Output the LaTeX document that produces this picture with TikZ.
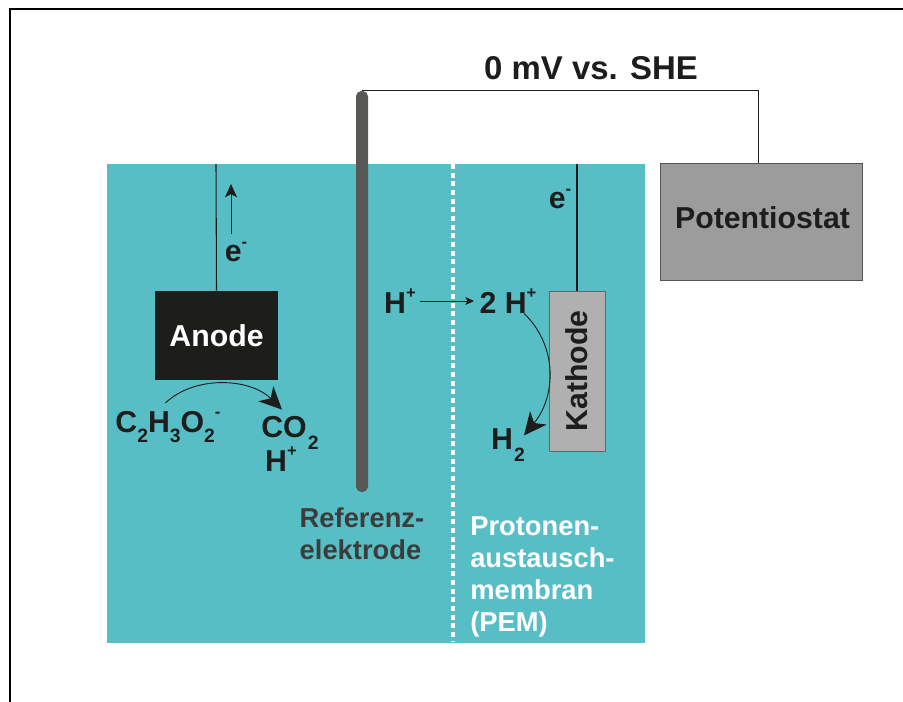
\documentclass[tikz,border=0pt]{standalone}
\usepackage{fontspec}
\setmainfont{Liberation Sans}
\usetikzlibrary{arrows.meta}
\definecolor{bad}{HTML}{58BEC6}
\definecolor{stab}{HTML}{575756}
\definecolor{dunkel}{HTML}{1D1D1B}
\definecolor{schrift}{HTML}{3C3C3B}
\newcommand{\tief}[1]{\raisebox{-0.33em}{\fontsize{14.5}{15}\selectfont #1}}
\newcommand{\tiefer}[1]{\raisebox{-0.4em}{\fontsize{14.5}{15}\selectfont\kern0.8pt #1}}
\newcommand{\hoch}[1]{\raisebox{0.48em}{\fontsize{12.5}{13}\selectfont #1}}
\tikzset{
    chem/.style={text=dunkel,font=\fontsize{22.7}{24}\bfseries\selectfont,inner sep=0pt},
    draht/.style={draw=dunkel,line width=0.8pt},
    klein/.style={draw=dunkel,line width=0.5pt,-{Stealth[length=6.5pt,width=6pt,inset=1.5pt]}},
    hochpfeil/.style={draw=dunkel,line width=0.5pt,-{Stealth[length=10pt,width=9pt,inset=2.5pt]}},
    pfeil/.style={draw=dunkel,line width=0.7pt,-{Stealth[length=17pt,width=16pt,inset=5pt]}},
    notiz/.style={font=\fontsize{20.5}{24}\bfseries\selectfont,inner sep=0pt,align=left}
}
\begin{document}
\begin{tikzpicture}[x=0.75pt,y=-0.75pt]
    \useasboundingbox (0,0) rectangle (903,702);
    \draw [line width=1pt] (10,702) -- (10,9) -- (903,9);
    \node [fill=bad,inner sep=0pt,minimum width=403.5pt,minimum height=359.25pt] (bad) at (376,403.5) {};
    \node [fill=stab,rounded corners=4pt,inner sep=0pt,minimum width=9pt,minimum height=300.75pt] (stab) at (362,291.5) {};
    \node [fill=black!39,draw=black!67,line width=0.8pt,inner sep=0pt,minimum width=152pt,minimum height=88pt] (poti) at (761.5,222) {};
    \node [chem] (potitext) at (762.5,218) {Potentiostat};
    \node [fill=dunkel,inner sep=0pt,minimum width=92.25pt,minimum height=66.75pt,font=\fontsize{22.7}{24}\bfseries\selectfont,text=white] (anode) at (216.5,335.5) {Anode};
    \node [fill=black!31,draw=black!60,line width=0.6pt,inner sep=0pt,minimum width=42pt,minimum height=120pt] (kathode) at (577,371) {};
    \node [chem,rotate=90] (kathodetext) at (kathode) {Kathode};
    \coordinate (anodeoben) at (216,164);
    \coordinate (kathodeoben) at (577,164);
    \coordinate (membranoben) at (453,164);
    \coordinate (membranunten) at (453,641);
    \coordinate (pfeilunten) at (231,234);
    \coordinate (pfeiloben) at (231,184);
    \draw [white,line width=2.5pt,dash pattern=on 3.75pt off 2.75pt] (membranoben) -- (membranunten);
    \draw [draht] (stab.north) -| ([xshift=-2pt]poti.north);
    \draw [draht] (anodeoben) -- (anode.north);
    \draw [draht] (kathodeoben) -- (kathode.north);
    \draw [hochpfeil] (pfeilunten) -- (pfeiloben);
    \node [font=\fontsize{24.7}{26}\bfseries\selectfont,text=dunkel,inner sep=0pt] (titel) at (591,68) {0 mV vs. SHE};
    \node [chem] (ea) at (236,252) {e\hoch{-}};
    \node [chem] (ek) at (560,199) {e\hoch{-}};
    \node [chem] (acetat) at (168,427) {C\tief{2}H\tief{3}O\tief{2}\hoch{-}};
    \node [chem] (co2) at (290,432.5) {CO\tiefer{2}};
    \node [chem] (hplus) at (281,459) {H\hoch{+}};
    \node [chem] (ha) at (400,301) {H\hoch{+}};
    \node [chem] (zwei) at (508,301) {2 H\hoch{+}};
    \node [chem] (h2) at (508,445.5) {H\tiefer{2}};
    \node [notiz,text=schrift] (ref) at (362,534) {Referenz-\\elektrode};
    \node [notiz,text=white,anchor=north west] (pem) at (470,516) {Protonen-\\austausch-\\membran\\(PEM)};
    \draw [klein] ([xshift=3pt]ha.east) -- ([xshift=-4pt]zwei.west);
    \draw [pfeil] ([xshift=-2pt,yshift=6pt]acetat.north) .. controls (195,375) and (250,378) .. ([xshift=-6pt,yshift=4.5pt]co2.north);
    \draw [pfeil] ([xshift=12pt]zwei.south) .. controls (557,345) and (557,395) .. ([xshift=12pt,yshift=-5pt]h2.north);
\end{tikzpicture}
\end{document}
